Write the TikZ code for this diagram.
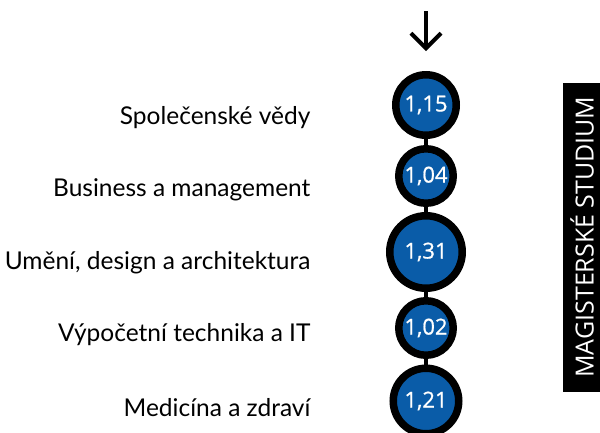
\documentclass[tikz,border=0pt]{standalone}
\usepackage{fontspec}
\setmainfont{Lato}
\newfontfamily\numfont{Open Sans}
\newfontfamily\valfont[FakeBold=0.8]{Open Sans}
\usetikzlibrary{arrows.meta}
\definecolor{ratioblue}{RGB}{10,92,168}
\begin{document}
\begin{tikzpicture}[x=1pt, y=-1pt,
    ratio/.style={circle, draw=black, line width=7.5pt, fill=ratioblue,
      text=white, inner sep=0pt, font=\valfont\fontsize{22}{22}\selectfont},
    field/.style={anchor=east, font=\fontsize{24.5}{28}\selectfont},
    link/.style={line width=4pt}]
  \useasboundingbox (0, 0) rectangle (600, 432);
  % arrow into the first circle
  \coordinate (top) at (426, 11);
  \coordinate (tip) at (426, 51);
  \draw[line width=4pt, -{Straight Barb[length=15pt, width=30pt]}] (top) -- (tip);
  % one circle per field, size after the value
  \foreach \y/\r/\v [count=\i] in {105/34/1{,}15, 176/31/1{,}04,
      252/40/1{,}31, 328/31/1{,}02, 401/36.5/1{,}21} {
    \node[ratio, minimum size={2*\r-7.5}] (c\i) at (426, \y) {\v};
  }
  \begin{scope}[on background layer/.try]
    \draw[link] (c1) -- (c2) -- (c3) -- (c4) -- (c5);
  \end{scope}
  \foreach \y/\t [count=\i] in {118/Společenské vědy, 190/Business a management,
      263/{Umění, design a architektura}, 335/Výpočetní technika a IT,
      408/Medicína a zdraví} {
    \node[field] (f\i) at (314, \y) {\t};
  }
  % side tab
  \fill[black] (563, 83) rectangle (601, 392);
  \node[rotate=90, text=white, font=\numfont\fontsize{25}{25}\selectfont]
    (tab) at (582, 237) {MAGISTERSKÉ STUDIUM};
\end{tikzpicture}
\end{document}
